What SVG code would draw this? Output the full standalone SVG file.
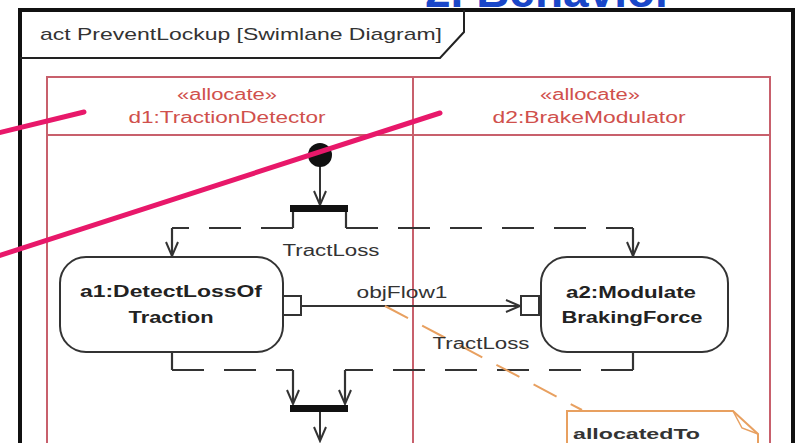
<svg xmlns="http://www.w3.org/2000/svg" width="798" height="443" viewBox="0 0 798 443">
<defs>
<marker id="open" markerUnits="userSpaceOnUse" markerWidth="18" markerHeight="16" refX="15" refY="7" orient="auto">
<path d="M1,1 L15,7 L1,13" fill="none" stroke="#333" stroke-width="2"/>
</marker>
<style>
.t{font-family:"Liberation Sans",Arial,sans-serif;fill:#333}
.b{font-weight:bold;fill:#222}
.lane{font-family:"Liberation Sans",Arial,sans-serif;fill:#d0504c;font-size:16px}
.lanel{stroke:#c8606c;stroke-width:2;fill:none}
.flow{stroke:#333;stroke-width:2;fill:none}
.dash{stroke:#333;stroke-width:2.2;fill:none;stroke-dasharray:32 20}
.act{fill:#fff;stroke:#333;stroke-width:2}
.pin{fill:#fff;stroke:#333;stroke-width:2}
.mag{stroke:#e8186a;stroke-width:5;stroke-linecap:round}
</style>
</defs>
<rect width="798" height="443" fill="#fff"/>
<text x="425" y="7" font-family="Liberation Sans,Arial,sans-serif" font-weight="bold" font-size="46" fill="#1a47c8">2. Behavior</text>
<g id="frame">
<path d="M20,445 V10 H793 V445" fill="none" stroke="#111" stroke-width="4"/>
<path d="M20,58 H440 L464,32 V10" fill="none" stroke="#222" stroke-width="2"/>
<text class="t" x="40" y="40" font-size="17" textLength="402" lengthAdjust="spacingAndGlyphs" fill="#222">act PreventLockup [Swimlane Diagram]</text>
</g>
<g id="lanes">
<path class="lanel" d="M47,445 V77 H770 V445 M47,135 H770 M413,77 V445"/>
<text class="lane" x="227" y="100" text-anchor="middle" textLength="100" lengthAdjust="spacingAndGlyphs">«allocate»</text>
<text class="lane" x="227" y="123" text-anchor="middle" textLength="197" lengthAdjust="spacingAndGlyphs">d1:TractionDetector</text>
<text class="lane" x="590" y="100" text-anchor="middle" textLength="100" lengthAdjust="spacingAndGlyphs">«allocate»</text>
<text class="lane" x="589" y="123" text-anchor="middle" textLength="193" lengthAdjust="spacingAndGlyphs">d2:BrakeModulator</text>
</g>
<g id="connectors">
<line class="flow" x1="320" y1="166" x2="320" y2="205" marker-end="url(#open)"/>
<path class="dash" d="M293,212 V228"/>
<path class="dash" d="M293,228 H172"/>
<path class="dash" d="M172,228 V256" marker-end="url(#open)"/>
<path class="dash" d="M346,212 V228"/>
<path class="dash" d="M346,228 H633"/>
<path class="dash" d="M633,228 V256" marker-end="url(#open)"/>
<line class="flow" x1="301" y1="306" x2="520" y2="306" marker-end="url(#open)"/>
<path class="dash" d="M172,352 V370"/>
<path class="dash" d="M172,370 H293"/>
<path class="dash" d="M293,370 V404" marker-end="url(#open)"/>
<path class="dash" d="M633,352 V370"/>
<path class="dash" d="M633,370 H345"/>
<path class="dash" d="M345,370 V404" marker-end="url(#open)"/>
<line class="flow" x1="320" y1="412" x2="320" y2="441" marker-end="url(#open)"/>
<line x1="385" y1="306" x2="582" y2="410" stroke="#e8a060" stroke-width="2" stroke-dasharray="26 16"/>
<text class="t" x="331" y="256" font-size="16" text-anchor="middle" textLength="97" lengthAdjust="spacingAndGlyphs">TractLoss</text>
<text class="t" x="402" y="298" font-size="16" text-anchor="middle" textLength="91" lengthAdjust="spacingAndGlyphs">objFlow1</text>
<text class="t" x="481" y="349" font-size="16" text-anchor="middle" textLength="97" lengthAdjust="spacingAndGlyphs">TractLoss</text>
</g>
<g id="initial"><circle cx="320" cy="155" r="12" fill="#111"/></g>
<g id="fork"><rect x="290" y="205" width="58" height="7" fill="#111"/></g>
<g id="join"><rect x="290" y="405" width="58" height="7" fill="#111"/></g>
<g id="a1">
<rect class="act" x="60" y="257" width="223" height="95" rx="26"/>
<rect class="pin" x="283" y="296" width="18" height="19"/>
<text class="t b" x="171" y="297" font-size="16" text-anchor="middle" textLength="182" lengthAdjust="spacingAndGlyphs">a1:DetectLossOf</text>
<text class="t b" x="171" y="323" font-size="16" text-anchor="middle" textLength="85" lengthAdjust="spacingAndGlyphs">Traction</text>
</g>
<g id="a2">
<rect class="act" x="541" y="257" width="187" height="95" rx="26"/>
<rect class="pin" x="521" y="296" width="18" height="19"/>
<text class="t b" x="631" y="298" font-size="16" text-anchor="middle" textLength="130" lengthAdjust="spacingAndGlyphs">a2:Modulate</text>
<text class="t b" x="632" y="323" font-size="16" text-anchor="middle" textLength="141" lengthAdjust="spacingAndGlyphs">BrakingForce</text>
</g>
<g id="note">
<path d="M567,445 V411 H733 L758,434 V445" fill="#fff" stroke="#e8a060" stroke-width="2"/>
<path d="M733,411 L742,428 L758,434" fill="none" stroke="#e8a060" stroke-width="1.5"/>
<text class="t" x="573" y="439" font-size="15" font-weight="bold" fill="#d8404c" textLength="127" lengthAdjust="spacingAndGlyphs">allocatedTo</text>
</g>
<g id="annotations">
<line class="mag" x1="-2" y1="133" x2="84" y2="112"/>
<line class="mag" x1="-2" y1="256" x2="440" y2="113"/>
</g>
</svg>
